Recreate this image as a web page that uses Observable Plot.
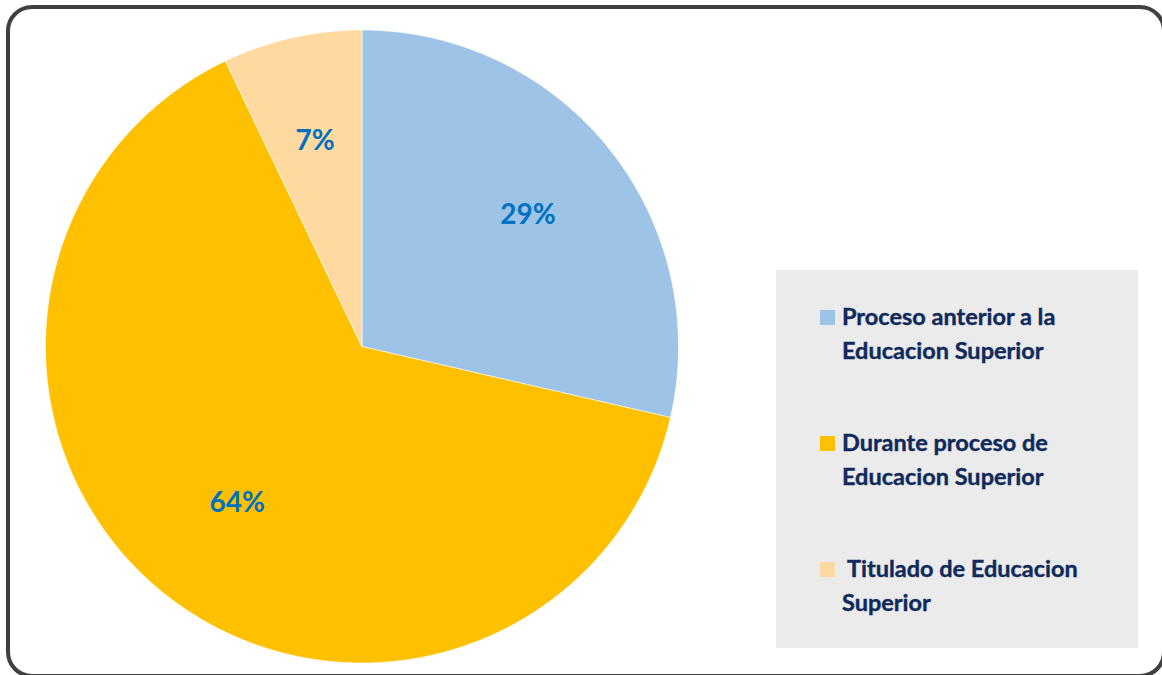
<!DOCTYPE html>
<html><head><meta charset="utf-8">
<script src="https://cdn.jsdelivr.net/npm/d3@7"></script>
<script src="https://cdn.jsdelivr.net/npm/@observablehq/plot@0.6"></script>
<style>
body{margin:0;background:#fff;}
#wrap{position:relative;width:1162px;height:675px;overflow:hidden;}
#chart{position:absolute;left:0;top:0;}
#border{position:absolute;left:6px;top:5px;width:1160px;height:673px;border:4.5px solid #404040;border-radius:26px;box-sizing:border-box;}
#legend{position:absolute;left:776px;top:270px;width:362px;height:378px;background:#EBEBEB;}
.entry{position:absolute;left:66px;font-family:Lato,sans-serif;font-weight:bold;font-size:23.5px;line-height:34px;color:#102A5C;white-space:pre;-webkit-text-stroke:0.4px #102A5C;}
.sw{position:absolute;left:44px;width:15px;height:15px;}
</style></head>
<body>
<div id="wrap"><div id="chart"></div><div id="legend"></div><div id="border"></div></div>
<script>
const categories = ["Proceso anterior a la\nEducacion Superior", "Durante proceso de\nEducacion Superior", " Titulado de Educacion\nSuperior"];
const values = [28.6, 64.3, 7.1];
const labels = ["29%", "64%", "7%"];
const colors = ["#9DC3E6", "#FFC000", "#FFD9A0"];

const total = d3.sum(values);
const pts = [];
const lab = [];
let acc = 0;
values.forEach((v, i) => {
  const a0 = acc / total * 2 * Math.PI;
  acc += v;
  const a1 = acc / total * 2 * Math.PI;
  pts.push({cat: categories[i], x: 0, y: 0});
  const n = Math.max(2, Math.ceil((a1 - a0) / (Math.PI / 360)));
  for (let k = 0; k <= n; k++) {
    const a = a0 + (a1 - a0) * k / n;
    pts.push({cat: categories[i], x: Math.sin(a), y: Math.cos(a)});
  }
  pts.push({cat: categories[i], x: 0, y: 0});
  const am = (a0 + a1) / 2;
  const r = v > 50 ? 0.63 : 0.67;
  lab.push({text: labels[i], x: r * Math.sin(am), y: r * Math.cos(am)});
});

const plot = Plot.plot({
  width: 1162, height: 675, margin: 0,
  style: {background: "transparent"},
  x: {domain: [-1, 1], range: [45, 678], axis: null},
  y: {domain: [-1, 1], range: [662.5, 29.5], axis: null},
  color: {domain: categories, range: colors},
  marks: [
    Plot.line(pts, {x: "x", y: "y", z: "cat", fill: "cat", stroke: "white", strokeWidth: 0.6, curve: "linear"}),
    Plot.text(lab, {x: "x", y: "y", text: "text", fill: "#0070C0", fontSize: 28, fontWeight: "bold", fontFamily: "Lato", dy: 1})
  ]
});
document.getElementById("chart").appendChild(plot);

const legend = document.getElementById("legend");
const tops = [40, 166, 292];
categories.forEach((c, i) => {
  const sw = document.createElement("div");
  sw.className = "sw";
  sw.style.top = tops[i] + "px";
  sw.style.background = colors[i];
  legend.appendChild(sw);
  const t = document.createElement("div");
  t.className = "entry";
  t.style.top = (tops[i] - 11) + "px";
  t.textContent = c;
  legend.appendChild(t);
});
</script>
</body></html>
